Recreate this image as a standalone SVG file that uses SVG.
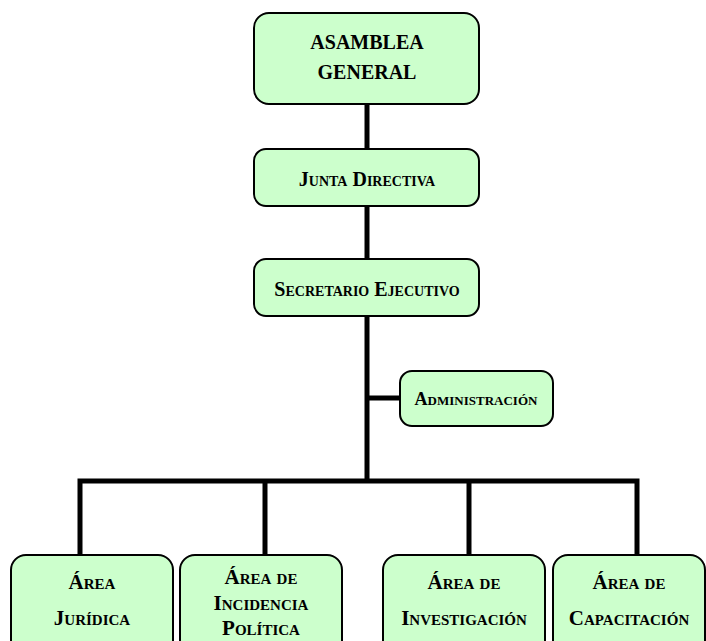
<svg xmlns="http://www.w3.org/2000/svg" width="706" height="641" viewBox="0 0 706 641">
<style>
.box{fill:#CCFFCC;stroke:#000;stroke-width:2}
.t{font-family:"Liberation Serif","DejaVu Serif",serif;font-weight:bold;font-size:20px;font-variant:small-caps;text-anchor:middle;fill:#000}
.s{font-size:18px}
.b{font-size:21px}
.c{stroke:#000;stroke-width:5;fill:none}
</style>
<rect width="706" height="641" fill="#fff"/>
<g id="connectors">
<line class="c" x1="367" y1="104" x2="367" y2="149"/>
<line class="c" x1="367" y1="206" x2="367" y2="259"/>
<line class="c" x1="367" y1="316" x2="367" y2="483"/>
<line class="c" x1="367" y1="398" x2="400" y2="398"/>
<polyline class="c" points="80,555 80,481 637,481 637,555"/>
<line class="c" x1="265" y1="481" x2="265" y2="555"/>
<line class="c" x1="469" y1="481" x2="469" y2="555"/>
</g>
<g id="asamblea">
<rect class="box" x="254" y="13" width="225" height="91" rx="15"/>
<text class="t" x="367" y="49">ASAMBLEA</text>
<text class="t" x="367" y="79">GENERAL</text>
</g>
<g id="junta">
<rect class="box" x="254" y="149" width="225" height="57" rx="12"/>
<text class="t" x="367" y="186">Junta Directiva</text>
</g>
<g id="secretario">
<rect class="box" x="254" y="259" width="225" height="57" rx="12"/>
<text class="t" x="367" y="296">Secretario Ejecutivo</text>
</g>
<g id="administracion">
<rect class="box" x="400" y="371" width="153" height="55" rx="12"/>
<text class="t s" x="476" y="405">Administración</text>
</g>
<g id="juridica">
<rect class="box" x="11" y="555" width="162" height="100" rx="15"/>
<text class="t b" x="92" y="589">Área</text>
<text class="t b" x="92" y="625">Jurídica</text>
</g>
<g id="incidencia">
<rect class="box" x="180" y="555" width="162" height="100" rx="15"/>
<text class="t b" x="261" y="584">Área de</text>
<text class="t b" x="261" y="610">Incidencia</text>
<text class="t b" x="261" y="635">Política</text>
</g>
<g id="investigacion">
<rect class="box" x="383" y="555" width="162" height="100" rx="15"/>
<text class="t b" x="464" y="589">Área de</text>
<text class="t b" x="464" y="625">Investigación</text>
</g>
<g id="capacitacion">
<rect class="box" x="553" y="555" width="152" height="100" rx="15"/>
<text class="t b" x="629" y="589">Área de</text>
<text class="t b" x="629" y="625">Capacitación</text>
</g>
</svg>
